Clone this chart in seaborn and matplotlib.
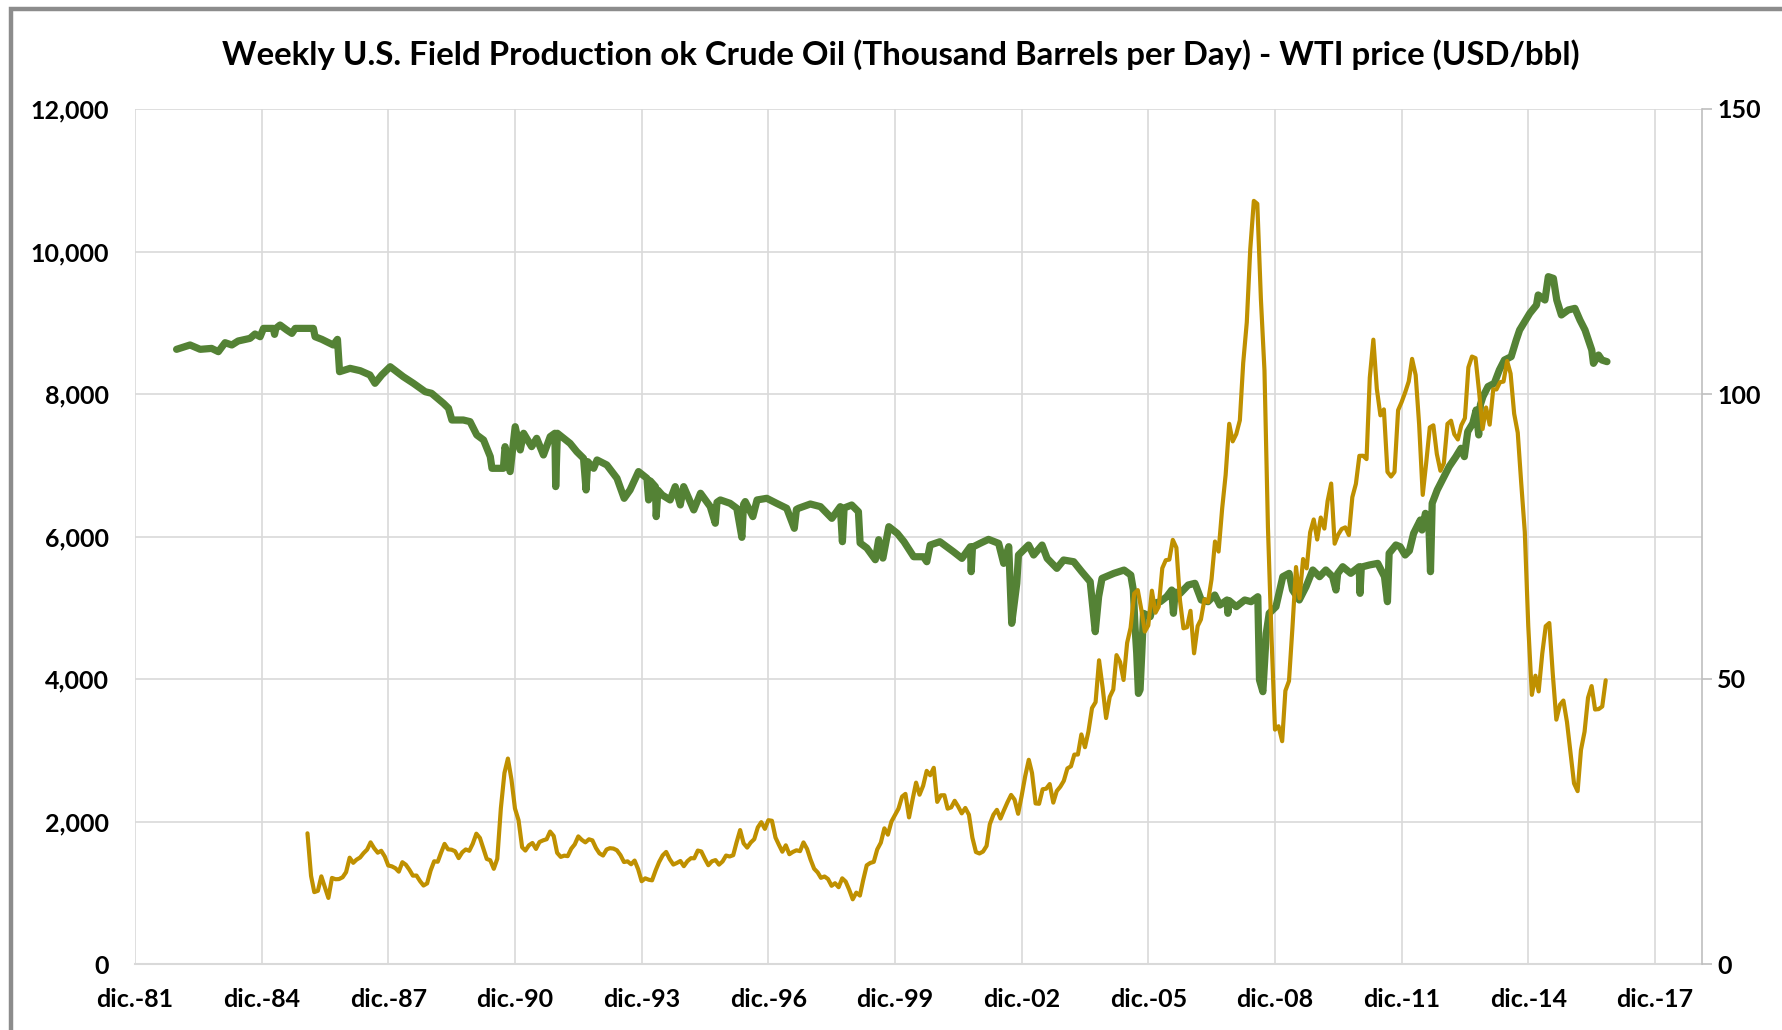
import numpy as np
import pandas as pd
import seaborn as sns
import matplotlib.pyplot as plt
from matplotlib.patches import Rectangle
from matplotlib.ticker import FuncFormatter

sns.set_theme(style='white')
plt.rcParams['font.family'] = ['Lato', 'DejaVu Sans']

title = 'Weekly U.S. Field Production ok Crude Oil (Thousand Barrels per Day) - WTI price (USD/bbl)'

# weekly field production (decimal year, kb/d)
prod_t = [
    1982.90, 1983.22, 1983.46, 1983.73, 1983.89, 1984.05, 1984.21, 1984.36, 1984.64, 1984.76,
    1984.88, 1984.96, 1985.19, 1985.22, 1985.25, 1985.35, 1985.51, 1985.63, 1985.71, 1986.14,
    1986.18, 1986.34, 1986.61, 1986.71, 1986.76, 1987.01, 1987.25, 1987.48, 1987.60, 1987.76,
    1987.96, 1988.27, 1988.51, 1988.79, 1988.94, 1989.22, 1989.34, 1989.42, 1989.69, 1989.85,
    1990.01, 1990.17, 1990.33, 1990.37, 1990.64, 1990.68, 1990.80, 1990.92, 1991.04, 1991.12,
    1991.31, 1991.43, 1991.59, 1991.75, 1991.86, 1991.88, 1991.92, 1992.22, 1992.38, 1992.54,
    1992.60, 1992.64, 1992.78, 1992.86, 1993.09, 1993.33, 1993.50, 1993.64, 1993.84, 1994.04,
    1994.08, 1994.12, 1994.24, 1994.26, 1994.30, 1994.40, 1994.59, 1994.71, 1994.83, 1994.91,
    1995.15, 1995.31, 1995.54, 1995.66, 1995.70, 1995.78, 1996.01, 1996.17, 1996.29, 1996.33,
    1996.37, 1996.55, 1996.65, 1996.88, 1997.11, 1997.35, 1997.53, 1997.58, 1997.63, 1997.91,
    1998.15, 1998.42, 1998.62, 1998.67, 1998.71, 1998.89, 1999.05, 1999.09, 1999.25, 1999.45,
    1999.53, 1999.63, 1999.77, 1999.97, 2000.13, 2000.36, 2000.59, 2000.67, 2000.75, 2000.98,
    2001.30, 2001.50, 2001.70, 2001.72, 2001.75, 2001.93, 2002.13, 2002.37, 2002.49, 2002.61,
    2002.68, 2002.80, 2002.84, 2003.08, 2003.20, 2003.40, 2003.52, 2003.75, 2003.91, 2004.15,
    2004.34, 2004.54, 2004.66, 2004.74, 2004.82, 2005.10, 2005.34, 2005.50, 2005.56, 2005.60,
    2005.64, 2005.68, 2005.72, 2005.76, 2005.80, 2005.96, 2006.04, 2006.20, 2006.35, 2006.47,
    2006.51, 2006.55, 2006.67, 2006.86, 2007.02, 2007.17, 2007.33, 2007.49, 2007.61, 2007.78,
    2007.80, 2007.83, 2008.00, 2008.20, 2008.35, 2008.51, 2008.55, 2008.63, 2008.71, 2008.78,
    2008.94, 2009.10, 2009.25, 2009.33, 2009.49, 2009.65, 2009.81, 2009.97, 2010.12, 2010.28,
    2010.36, 2010.40, 2010.52, 2010.71, 2010.91, 2010.93, 2010.96, 2011.15, 2011.35, 2011.51,
    2011.58, 2011.62, 2011.78, 2011.88, 2012.00, 2012.10, 2012.20, 2012.36, 2012.40, 2012.48,
    2012.56, 2012.60, 2012.64, 2012.76, 2012.92, 2013.04, 2013.20, 2013.32, 2013.40, 2013.48,
    2013.60, 2013.68, 2013.74, 2013.78, 2013.84, 2013.96, 2014.11, 2014.23, 2014.35, 2014.51,
    2014.63, 2014.71, 2014.83, 2014.95, 2015.11, 2015.15, 2015.31, 2015.39, 2015.51, 2015.59,
    2015.70, 2015.86, 2016.02, 2016.14, 2016.26, 2016.34, 2016.42, 2016.46, 2016.58, 2016.66,
    2016.78,
]
prod_kbd = [
    8627, 8688, 8627, 8640, 8594, 8720, 8688, 8744, 8781, 8842,
    8804, 8921, 8921, 8837, 8921, 8968, 8898, 8851, 8921, 8921,
    8804, 8767, 8688, 8767, 8313, 8360, 8327, 8267, 8150, 8267,
    8383, 8243, 8150, 8032, 8010, 7869, 7800, 7635, 7635, 7612,
    7425, 7355, 7121, 6957, 6957, 7261, 6911, 7541, 7215, 7449,
    7261, 7378, 7144, 7402, 7449, 6700, 7449, 7308, 7191, 7097,
    6653, 7050, 6957, 7074, 7004, 6817, 6536, 6653, 6911, 6817,
    6513, 6780, 6700, 6279, 6650, 6583, 6513, 6700, 6443, 6700,
    6373, 6607, 6420, 6186, 6480, 6513, 6466, 6396, 5988, 6450,
    6490, 6279, 6513, 6536, 6466, 6396, 6115, 6380, 6396, 6456,
    6419, 6255, 6419, 5927, 6400, 6442, 6348, 5909, 5838, 5674,
    5955, 5697, 6138, 6044, 5927, 5716, 5716, 5646, 5880, 5927,
    5786, 5693, 5857, 5506, 5850, 5904, 5960, 5904, 5623, 5857,
    4781, 5342, 5740, 5880, 5740, 5880, 5693, 5553, 5670, 5646,
    5506, 5366, 4664, 5155, 5412, 5483, 5529, 5459, 5249, 4734,
    4360, 3798, 3850, 4360, 4922, 4875, 5062, 5085, 5155, 5249,
    4922, 5220, 5202, 5319, 5343, 5109, 5085, 5179, 5038, 5109,
    4922, 5100, 5015, 5109, 5085, 5155, 3986, 3822, 4641, 4922,
    5015, 5436, 5483, 5249, 5109, 5296, 5530, 5436, 5530, 5436,
    5249, 5480, 5576, 5483, 5576, 5202, 5570, 5600, 5623, 5436,
    5085, 5764, 5881, 5857, 5740, 5800, 6044, 6232, 6091, 6325,
    6185, 5506, 6466, 6653, 6840, 6981, 7121, 7238, 7121, 7472,
    7589, 7776, 7425, 7850, 7963, 8104, 8150, 8337, 8477, 8524,
    8758, 8898, 9015, 9132, 9249, 9390, 9319, 9647, 9623, 9319,
    9109, 9179, 9202, 9038, 8898, 8758, 8617, 8430, 8547, 8477,
    8454,
]

# WTI monthly price (USD/bbl), Jan 1986 - Oct 2016
wti_start = '1986-01-01'
wti_usd = [
    22.93, 15.46, 12.61, 12.84, 15.38, 13.43, 11.59, 15.10, 14.87, 14.90, 15.22, 16.11,
    18.65, 17.75, 18.30, 18.68, 19.44, 20.07, 21.34, 20.31, 19.53, 19.86, 18.85, 17.28,
    17.13, 16.80, 16.20, 17.86, 17.42, 16.53, 15.50, 15.52, 14.54, 13.77, 14.14, 16.38,
    18.02, 17.94, 19.48, 21.07, 20.12, 20.05, 19.78, 18.58, 19.59, 20.10, 19.86, 21.10,
    22.86, 22.11, 20.39, 18.43, 18.20, 16.70, 18.45, 27.31, 33.51, 36.04, 32.33, 27.28,
    25.23, 20.48, 19.90, 20.83, 21.23, 20.19, 21.40, 21.69, 21.89, 23.23, 22.46, 19.50,
    18.79, 19.01, 18.92, 20.23, 20.98, 22.39, 21.78, 21.34, 21.88, 21.69, 20.34, 19.41,
    19.03, 20.09, 20.32, 20.25, 19.95, 19.09, 17.89, 18.01, 17.50, 18.15, 16.61, 14.52,
    15.03, 14.78, 14.68, 16.42, 17.89, 19.06, 19.66, 18.38, 17.45, 17.72, 18.07, 17.16,
    18.04, 18.57, 18.54, 19.90, 19.74, 18.45, 17.33, 18.02, 18.23, 17.43, 17.99, 19.03,
    18.86, 19.09, 21.33, 23.50, 21.17, 20.42, 21.30, 21.90, 23.97, 24.88, 23.71, 25.23,
    25.13, 22.18, 20.97, 19.70, 20.82, 19.26, 19.66, 19.95, 19.80, 21.33, 20.19, 18.33,
    16.72, 16.06, 15.12, 15.35, 14.91, 13.72, 14.17, 13.47, 15.03, 14.46, 13.00, 11.35,
    12.52, 12.01, 14.68, 17.31, 17.72, 17.92, 20.10, 21.28, 23.80, 22.69, 25.00, 26.10,
    27.26, 29.37, 29.84, 25.72, 28.79, 31.82, 29.70, 31.26, 33.88, 33.11, 34.42, 28.44,
    29.59, 29.61, 27.25, 27.49, 28.63, 27.60, 26.43, 27.37, 26.20, 22.17, 19.64, 19.39,
    19.72, 20.72, 24.53, 26.18, 27.04, 25.52, 26.97, 28.39, 29.66, 28.84, 26.35, 29.46,
    32.95, 35.83, 33.51, 28.17, 28.11, 30.66, 30.75, 31.57, 28.31, 30.34, 31.11, 32.13,
    34.31, 34.69, 36.74, 36.75, 40.28, 38.03, 40.78, 44.90, 45.94, 53.28, 48.47, 43.15,
    46.84, 48.15, 54.19, 52.98, 49.83, 56.35, 59.00, 64.99, 65.59, 62.26, 58.32, 59.41,
    65.49, 61.63, 62.69, 69.44, 70.84, 70.95, 74.41, 73.04, 63.80, 58.89, 59.08, 61.96,
    54.51, 59.28, 60.44, 63.98, 63.46, 67.49, 74.12, 72.36, 79.92, 85.80, 94.77, 91.69,
    92.97, 95.39, 105.45, 112.58, 125.40, 133.88, 133.37, 116.67, 104.11, 76.61, 57.31, 41.12,
    41.71, 39.09, 47.94, 49.65, 59.03, 69.64, 64.15, 71.05, 69.41, 75.72, 77.99, 74.47,
    78.33, 76.39, 81.20, 84.29, 73.74, 75.34, 76.32, 76.60, 75.24, 81.89, 84.25, 89.15,
    89.17, 88.58, 102.86, 109.53, 100.90, 96.26, 97.30, 86.33, 85.52, 86.32, 97.16, 98.56,
    100.27, 102.20, 106.16, 103.32, 94.66, 82.30, 87.90, 94.13, 94.51, 89.49, 86.53, 87.86,
    94.76, 95.31, 92.94, 92.02, 94.51, 95.77, 104.67, 106.57, 106.29, 100.54, 93.86, 97.63,
    94.62, 100.82, 100.80, 102.07, 102.18, 105.79, 103.59, 96.54, 93.21, 84.40, 75.79, 59.29,
    47.22, 50.58, 47.82, 54.45, 59.27, 59.82, 50.90, 42.87, 45.48, 46.22, 42.44, 37.19,
    31.68, 30.32, 37.55, 40.75, 46.71, 48.76, 44.65, 44.72, 45.18, 49.78,
]

x_ticks = ['1981-12-01', '1984-12-01', '1987-12-01', '1990-12-01', '1993-12-01', '1996-12-01',
           '1999-12-01', '2002-12-01', '2005-12-01', '2008-12-01', '2011-12-01', '2014-12-01',
           '2017-12-01']
x_labels = ['dic.-81', 'dic.-84', 'dic.-87', 'dic.-90', 'dic.-93', 'dic.-96', 'dic.-99',
            'dic.-02', 'dic.-05', 'dic.-08', 'dic.-11', 'dic.-14', 'dic.-17']
left_ticks = [0, 2000, 4000, 6000, 8000, 10000, 12000]
right_ticks = [0, 50, 100, 150]


def to_date(t):
    y = int(t)
    return pd.Timestamp(year=y, month=1, day=1) + pd.Timedelta(days=(t - y) * 365.25)


prod = pd.DataFrame({'date': [to_date(t) for t in prod_t], 'kbd': prod_kbd})
wti = pd.DataFrame({'date': pd.date_range(wti_start, periods=len(wti_usd), freq='MS'),
                    'usd': wti_usd})

W, H = 1783, 1030
fig = plt.figure(figsize=(W / 100, H / 100), dpi=100)
ax = fig.add_axes([135 / W, 1 - 964 / H, (1702 - 135) / W, (964 - 109) / H])
ax2 = ax.twinx()

green = '#548235'
gold = '#BF9000'
grid_c = '#d9d9d9'

sns.lineplot(data=prod, x='date', y='kbd', ax=ax, color=green, linewidth=5.2,
             estimator=None, solid_joinstyle='round', solid_capstyle='round')
sns.lineplot(data=wti, x='date', y='usd', ax=ax2, color=gold, linewidth=3.0,
             estimator=None, solid_joinstyle='round')

ax.set_xlim(pd.Timestamp('1981-12-01'), pd.Timestamp('2019-01-12'))
ax.set_ylim(0, 12000)
ax2.set_ylim(0, 150)

ax.set_xticks(pd.to_datetime(x_ticks))
ax.set_xticklabels(x_labels)
ax.set_yticks(left_ticks)
ax.yaxis.set_major_formatter(FuncFormatter(lambda v, p: f'{int(v):,}'))
ax2.set_yticks(right_ticks)

ax.grid(True, color=grid_c, linewidth=1.2)
ax2.grid(False)
ax.set_xlabel('')
ax.set_ylabel('')
ax2.set_xlabel('')
ax2.set_ylabel('')

for a in (ax, ax2):
    for s in ('top', 'left', 'right', 'bottom'):
        a.spines[s].set_visible(False)
ax.spines['bottom'].set_visible(True)
ax.spines['bottom'].set_color(grid_c)
ax.spines['bottom'].set_linewidth(1.5)
ax2.spines['right'].set_visible(True)
ax2.spines['right'].set_color('#bfbfbf')
ax2.spines['right'].set_linewidth(1.2)

ax.tick_params(axis='x', length=0, pad=17, labelsize=18)
ax.tick_params(axis='y', length=0, pad=19, labelsize=18)
ax2.tick_params(axis='y', right=True, length=7, width=1.2, color='#bfbfbf', pad=4, labelsize=18)
for lab in ax.get_xticklabels() + ax.get_yticklabels() + ax2.get_yticklabels():
    lab.set_fontweight('bold')
    lab.set_color('black')

fig.text(901 / W, 1 - 55 / H, title, ha='center', va='center', fontsize=23.8,
         fontweight='bold', color='black')

# outer chart frame (only top and left edges are inside the picture)
fig.patches.append(Rectangle((11.5 / W, -0.1), 1.2, 1.1 - 9 / H, transform=fig.transFigure,
                             fill=False, edgecolor='#8c8c8c', linewidth=3.2))

fig.savefig('out.png', dpi=100)
